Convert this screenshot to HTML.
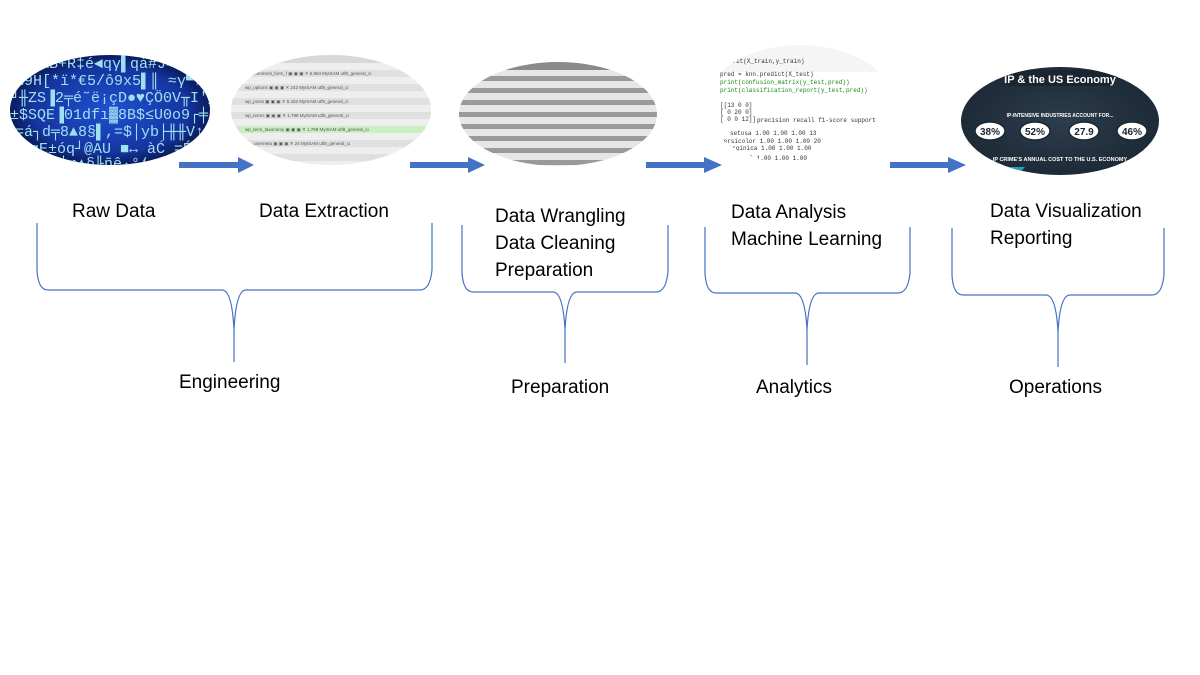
<!DOCTYPE html>
<html><head><meta charset="utf-8"><style>
html,body{margin:0;padding:0;background:#fff;width:1200px;height:675px;overflow:hidden}
svg text{font-family:"Liberation Sans",sans-serif}
</style></head><body>
<svg width="1200" height="675" viewBox="0 0 1200 675" xmlns="http://www.w3.org/2000/svg">
<defs>
<radialGradient id="g1" cx="50%" cy="50%" r="55%"><stop offset="0" stop-color="#2150d0"/><stop offset="0.7" stop-color="#1535a0"/><stop offset="1" stop-color="#061040"/></radialGradient>
<radialGradient id="g5" cx="50%" cy="50%" r="55%"><stop offset="0" stop-color="#2d3d4d"/><stop offset="1" stop-color="#1c2835"/></radialGradient>
<clipPath id="c1"><ellipse cx="110" cy="110" rx="100" ry="55"/></clipPath>
<clipPath id="c2"><ellipse cx="331" cy="110" rx="100" ry="55"/></clipPath>
<clipPath id="c3"><ellipse cx="558" cy="114" rx="99" ry="52"/></clipPath>
<clipPath id="c4"><ellipse cx="800" cy="105" rx="95" ry="60"/></clipPath>
<clipPath id="c5"><ellipse cx="1060" cy="121" rx="99" ry="54"/></clipPath>
</defs>

<!-- Ellipse 1 raw data -->
<ellipse cx="110" cy="110" rx="100" ry="55" fill="url(#g1)"/>
<g clip-path="url(#c1)" font-family="Liberation Mono,monospace" font-size="15" fill="#9fe0f0">
<text x="40" y="68" style="font-family:'Liberation Mono',monospace">&amp;B+R‡é◄qγ▌qá#J=LJ</text>
<text x="15" y="85" style="font-family:'Liberation Mono',monospace">£9H[*ï*€5/ô9x5▌║ ≈γ▀½‡pƒEú</text>
<text x="10" y="102" style="font-family:'Liberation Mono',monospace">╜╫ZS▐2╤é˜ë¡çD●♥ÇÖ0V╥I'_â8S2</text>
<text x="10" y="119" style="font-family:'Liberation Mono',monospace">±$SQE▐01dfı▓8B$≤U0o9┌╪î!b@eÑr</text>
<text x="15" y="136" style="font-family:'Liberation Mono',monospace">=á┐d╤8▲8§▌,=$│yb├╫╫V↑1ı╓üBVä</text>
<text x="30" y="153" style="font-family:'Liberation Mono',monospace">gE±óq┘@AU ■↔ àĆ =É_π36?C(</text>
<text x="50" y="168" style="font-family:'Liberation Mono',monospace">×┴φ▲§╟ñê·°‘s_£¢+R</text>
</g>

<!-- Ellipse 2 table -->
<ellipse cx="331" cy="110" rx="100" ry="55" fill="#eeeeee"/>
<g clip-path="url(#c2)">
<rect x="230" y="55" width="202" height="8" fill="#d8d8d8"/>
<g fill="#e0e0e0">
<rect x="230" y="70" width="202" height="7"/><rect x="230" y="84" width="202" height="7"/><rect x="230" y="98" width="202" height="7"/><rect x="230" y="112" width="202" height="7"/><rect x="230" y="140" width="202" height="7"/><rect x="230" y="154" width="202" height="7"/>
</g>
<rect x="230" y="126" width="202" height="7" fill="#c8f0c0"/>
<g fill="#555" font-size="4.5">
<text x="245" y="75">wp_comment_form_f  ▣ ▣ ▣ ✕   5,984 MyISAM utf8_general_ci</text>
<text x="245" y="89">wp_options          ▣ ▣ ▣ ✕   242 MyISAM utf8_general_ci</text>
<text x="245" y="103">wp_posts            ▣ ▣ ▣ ✕   5,432 MyISAM utf8_general_ci</text>
<text x="245" y="117">wp_terms            ▣ ▣ ▣ ✕   1,798 MyISAM utf8_general_ci</text>
<text x="245" y="131">wp_term_taxonomy    ▣ ▣ ▣ ✕   1,798 MyISAM utf8_general_ci</text>
<text x="245" y="145">wp_usermeta         ▣ ▣ ▣ ✕   24 MyISAM utf8_general_ci</text>
</g>
</g>

<!-- Ellipse 3 spreadsheet -->
<ellipse cx="558" cy="114" rx="99" ry="52" fill="#e6e6e6"/>
<g clip-path="url(#c3)" fill="#9a9a9a">
<rect x="455" y="60" width="205" height="10" fill="#8a8a8a"/>
<rect x="455" y="76" width="205" height="5"/><rect x="455" y="88" width="205" height="5"/><rect x="455" y="100" width="205" height="5"/><rect x="455" y="112" width="205" height="5"/><rect x="455" y="124" width="205" height="5"/><rect x="455" y="136" width="205" height="5"/><rect x="455" y="148" width="205" height="5"/><rect x="455" y="160" width="205" height="5"/>
</g>

<!-- Ellipse 4 code -->
<g clip-path="url(#c4)">
<rect x="700" y="40" width="200" height="130" fill="#fff"/>
<rect x="700" y="40" width="200" height="32" fill="#f5f5f5"/>
<g font-size="6" fill="#333" style="font-family:'Liberation Mono',monospace">
<text x="718" y="63" style="font-family:'Liberation Mono',monospace">knn.fit(X_train,y_train)</text>
<text x="720" y="76" style="font-family:'Liberation Mono',monospace">pred = knn.predict(X_test)</text>
<text x="720" y="84" fill="#1a8a1a" style="font-family:'Liberation Mono',monospace">print(confusion_matrix(y_test,pred))</text>
<text x="720" y="92" fill="#1a8a1a" style="font-family:'Liberation Mono',monospace">print(classification_report(y_test,pred))</text>
<text x="720" y="107" style="font-family:'Liberation Mono',monospace">[[13  0  0]</text>
<text x="720" y="114" style="font-family:'Liberation Mono',monospace"> [ 0 20  0]</text>
<text x="720" y="121" style="font-family:'Liberation Mono',monospace"> [ 0  0 12]]</text>
<text x="757" y="122" style="font-family:'Liberation Mono',monospace">precision   recall  f1-score   support</text>
<text x="730" y="135" style="font-family:'Liberation Mono',monospace">setosa    1.00     1.00    1.00     13</text>
<text x="720" y="143" style="font-family:'Liberation Mono',monospace">versicolor    1.00     1.00    1.00     20</text>
<text x="725" y="150" style="font-family:'Liberation Mono',monospace">virginica    1.00     1.00    1.00</text>
<text x="735" y="160" style="font-family:'Liberation Mono',monospace">total    1.00     1.00    1.00</text>
</g>
</g>

<!-- Ellipse 5 infographic -->
<ellipse cx="1060" cy="121" rx="99" ry="54" fill="url(#g5)"/>
<g clip-path="url(#c5)">
<path d="M1000 70 L1120 70 L1112 86 L1008 86 Z" fill="#1a2530"/>
<text x="1060" y="83" font-size="11" font-weight="bold" fill="#fff" text-anchor="middle">IP &amp; the US Economy</text>
<text x="1060" y="117" font-size="5" font-weight="bold" fill="#fff" text-anchor="middle">IP-INTENSIVE INDUSTRIES ACCOUNT FOR...</text>
<g fill="#fff" stroke="#1a2530" stroke-width="1.5">
<ellipse cx="990" cy="131" rx="15" ry="9"/><ellipse cx="1035" cy="131" rx="15" ry="9"/><ellipse cx="1084" cy="131" rx="15" ry="9"/><ellipse cx="1132" cy="131" rx="15" ry="9"/>
</g>
<g font-size="10" font-weight="bold" fill="#1a2530" text-anchor="middle">
<text x="990" y="135">38%</text><text x="1035" y="135">52%</text><text x="1084" y="135">27.9</text><text x="1132" y="135">46%</text>
</g>
<text x="1060" y="161" font-size="5.5" font-weight="bold" fill="#fff" text-anchor="middle">IP CRIME'S ANNUAL COST TO THE U.S. ECONOMY</text>
<path d="M955 167 L1025 167 L1018 175 L955 175 Z" fill="#2aa0b8"/>
<path d="M955 176 L1030 176 L1022 184 L955 184 Z" fill="#e0502a"/>
</g>

<!-- Arrows -->
<g fill="#4472C4">
<rect x="179" y="162" width="60" height="6"/><path d="M238 157 L254 165 L238 173 Z"/>
<rect x="410" y="162" width="59" height="6"/><path d="M468 157 L485 165 L468 173 Z"/>
<rect x="646" y="162" width="59" height="6"/><path d="M704 157 L722 165 L704 173 Z"/>
<rect x="890" y="162" width="59" height="6"/><path d="M948 157 L966 165 L948 173 Z"/>
</g>

<!-- Labels -->
<g font-size="19" fill="#000">
<text x="72" y="217">Raw Data</text>
<text x="259" y="217">Data Extraction</text>
<text x="495" y="222">Data Wrangling</text>
<text x="495" y="249">Data Cleaning</text>
<text x="495" y="276">Preparation</text>
<text x="731" y="218">Data Analysis</text>
<text x="731" y="245">Machine Learning</text>
<text x="990" y="217">Data Visualization</text>
<text x="990" y="244">Reporting</text>
<text x="179" y="388">Engineering</text>
<text x="511" y="393">Preparation</text>
<text x="756" y="393">Analytics</text>
<text x="1009" y="393">Operations</text>
</g>

<!-- Braces -->
<g fill="none" stroke="#4472C4" stroke-width="1.2">
<path d="M37 223 L37 270 Q38 290 48 290 L222 290 Q232 290 234 330 L234 362 M234 362 L234 330 Q236 290 246 290 L420 290 Q430 290 432 270 L432 223"/>
<path d="M462 225 L462 272 Q463 292 473 292 L553 292 Q563 292 565 330 L565 363 M565 330 Q567 292 577 292 L656 292 Q666 292 668 272 L668 225"/>
<path d="M705 227 L705 273 Q706 293 716 293 L795 293 Q805 293 807 330 L807 365 M807 330 Q809 293 819 293 L898 293 Q908 293 910 273 L910 227"/>
<path d="M952 228 L952 275 Q953 295 963 295 L1046 295 Q1056 295 1058 332 L1058 367 M1058 332 Q1060 295 1070 295 L1152 295 Q1162 295 1164 275 L1164 228"/>
</g>
</svg>
</body></html>
